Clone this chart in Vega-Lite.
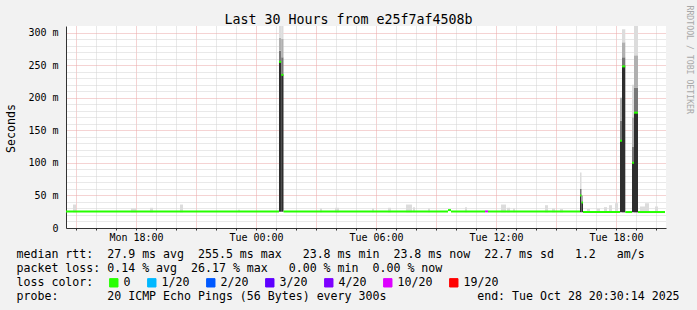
{
  "$schema": "https://vega.github.io/schema/vega-lite/v6.json",
  "width": 600,
  "height": 202,
  "autosize": {"type": "none"},
  "padding": {"left": 66, "top": 26, "right": 31, "bottom": 82},
  "background": "#f2f2f2",
  "config": {"view": {"fill": "#ffffff", "stroke": null}, "font": "DejaVu Sans Mono"},
  "datasets": {
    "smoke": [
      {"t": 14.85, "t2": 15.0, "lo": 24, "hi": 36, "d": 1},
      {"t": 17.75, "t2": 18.0, "lo": 24, "hi": 30, "d": 1},
      {"t": 18.7, "t2": 18.85, "lo": 24, "hi": 31, "d": 1},
      {"t": 20.2, "t2": 20.35, "lo": 24, "hi": 36, "d": 1},
      {"t": 23.1, "t2": 23.2, "lo": 24, "hi": 28, "d": 1},
      {"t": 27.2, "t2": 27.3, "lo": 24, "hi": 30, "d": 1},
      {"t": 27.95, "t2": 28.15, "lo": 24, "hi": 31, "d": 1},
      {"t": 29.8, "t2": 29.9, "lo": 24, "hi": 30, "d": 1},
      {"t": 30.6, "t2": 30.75, "lo": 24, "hi": 31, "d": 1},
      {"t": 31.5, "t2": 31.8, "lo": 24, "hi": 36, "d": 1},
      {"t": 31.85, "t2": 31.95, "lo": 24, "hi": 32, "d": 1},
      {"t": 32.6, "t2": 32.7, "lo": 24, "hi": 30, "d": 1},
      {"t": 34.45, "t2": 34.55, "lo": 24, "hi": 32, "d": 1},
      {"t": 36.25, "t2": 36.5, "lo": 24, "hi": 36, "d": 1},
      {"t": 36.55, "t2": 36.7, "lo": 24, "hi": 31, "d": 1},
      {"t": 36.85, "t2": 36.95, "lo": 24, "hi": 30, "d": 1},
      {"t": 38.45, "t2": 38.6, "lo": 24, "hi": 35, "d": 1},
      {"t": 38.8, "t2": 38.95, "lo": 24, "hi": 30, "d": 1},
      {"t": 39.2, "t2": 39.35, "lo": 24, "hi": 29, "d": 1},
      {"t": 40.55, "t2": 40.7, "lo": 24, "hi": 29, "d": 1},
      {"t": 41.05, "t2": 41.2, "lo": 24, "hi": 30, "d": 1},
      {"t": 41.4, "t2": 41.55, "lo": 24, "hi": 32, "d": 1},
      {"t": 41.65, "t2": 41.8, "lo": 24, "hi": 35, "d": 1},
      {"t": 41.95, "t2": 42.1, "lo": 24, "hi": 38, "d": 1},
      {"t": 43.2, "t2": 43.45, "lo": 24, "hi": 33, "d": 1},
      {"t": 43.45, "t2": 43.65, "lo": 24, "hi": 38, "d": 1},
      {"t": 43.95, "t2": 44.1, "lo": 24, "hi": 33, "d": 1},
      {"t": 25.15, "t2": 25.26, "lo": 25, "hi": 255, "d": 4},
      {"t": 25.15, "t2": 25.26, "lo": 255, "hi": 272, "d": 3},
      {"t": 25.15, "t2": 25.26, "lo": 272, "hi": 292, "d": 2},
      {"t": 25.15, "t2": 25.26, "lo": 292, "hi": 310, "d": 1},
      {"t": 25.26, "t2": 25.375, "lo": 25, "hi": 235, "d": 4},
      {"t": 25.26, "t2": 25.375, "lo": 235, "hi": 262, "d": 3},
      {"t": 25.26, "t2": 25.375, "lo": 262, "hi": 290, "d": 2},
      {"t": 25.26, "t2": 25.375, "lo": 290, "hi": 310, "d": 1},
      {"t": 40.2, "t2": 40.275, "lo": 24, "hi": 50, "d": 4},
      {"t": 40.2, "t2": 40.275, "lo": 50, "hi": 60, "d": 3},
      {"t": 40.2, "t2": 40.275, "lo": 60, "hi": 85, "d": 1},
      {"t": 40.275, "t2": 40.35, "lo": 24, "hi": 39, "d": 4},
      {"t": 40.275, "t2": 40.35, "lo": 39, "hi": 50, "d": 2},
      {"t": 42.2, "t2": 42.3, "lo": 24, "hi": 134, "d": 4},
      {"t": 42.2, "t2": 42.3, "lo": 134, "hi": 165, "d": 3},
      {"t": 42.2, "t2": 42.3, "lo": 165, "hi": 200, "d": 2},
      {"t": 42.3, "t2": 42.465, "lo": 24, "hi": 248, "d": 4},
      {"t": 42.3, "t2": 42.465, "lo": 248, "hi": 262, "d": 3},
      {"t": 42.3, "t2": 42.465, "lo": 262, "hi": 285, "d": 2},
      {"t": 42.3, "t2": 42.465, "lo": 285, "hi": 305, "d": 1},
      {"t": 42.8, "t2": 42.9, "lo": 24, "hi": 100, "d": 4},
      {"t": 42.8, "t2": 42.9, "lo": 100, "hi": 125, "d": 3},
      {"t": 42.8, "t2": 42.9, "lo": 125, "hi": 170, "d": 2},
      {"t": 42.8, "t2": 42.9, "lo": 170, "hi": 220, "d": 1},
      {"t": 42.9, "t2": 43.1, "lo": 24, "hi": 177, "d": 4},
      {"t": 42.9, "t2": 43.1, "lo": 177, "hi": 215, "d": 3},
      {"t": 42.9, "t2": 43.1, "lo": 215, "hi": 265, "d": 2},
      {"t": 42.9, "t2": 43.1, "lo": 265, "hi": 310, "d": 1}
    ],
    "median": [
      {"t": 14.5, "t2": 25.15, "med": 25.5, "loss": "0"},
      {"t": 25.15, "t2": 25.26, "med": 255, "loss": "0"},
      {"t": 25.26, "t2": 25.375, "med": 235, "loss": "0"},
      {"t": 25.375, "t2": 33.6, "med": 25.5, "loss": "0"},
      {"t": 33.6, "t2": 33.75, "med": 27.5, "loss": "0"},
      {"t": 33.75, "t2": 35.45, "med": 25.5, "loss": "0"},
      {"t": 35.45, "t2": 35.6, "med": 25.5, "loss": "10/20"},
      {"t": 35.6, "t2": 40.2, "med": 25.5, "loss": "0"},
      {"t": 40.2, "t2": 40.275, "med": 50, "loss": "0"},
      {"t": 40.275, "t2": 40.35, "med": 39, "loss": "0"},
      {"t": 40.35, "t2": 42.2, "med": 24.5, "loss": "0"},
      {"t": 42.2, "t2": 42.3, "med": 134, "loss": "0"},
      {"t": 42.3, "t2": 42.465, "med": 248, "loss": "0"},
      {"t": 42.465, "t2": 42.8, "med": 24.5, "loss": "0"},
      {"t": 42.8, "t2": 42.9, "med": 100, "loss": "0"},
      {"t": 42.9, "t2": 43.1, "med": 177, "loss": "0"},
      {"t": 43.1, "t2": 44.45, "med": 24.5, "loss": "0"}
    ]
  },
  "layer": [
    {
      "data": {"name": "smoke"},
      "mark": {"type": "rect", "clip": true},
      "encoding": {
        "x": {
          "field": "t", "type": "quantitative",
          "scale": {"domain": [14.5, 44.5], "nice": false, "zero": false},
          "axis": {
            "orient": "bottom",
            "values": [15,16,17,18,19,20,21,22,23,24,25,26,27,28,29,30,31,32,33,34,35,36,37,38,39,40,41,42,43,44],
            "labelExpr": "datum.value % 6 === 0 ? (datum.value < 24 ? 'Mon ' : 'Tue ') + (datum.value % 24 < 10 ? '0' : '') + (datum.value % 24) + ':00' : ''",
            "labelFont": "DejaVu Sans Mono", "labelFontSize": 10, "labelColor": "#000000",
            "labelPadding": 2, "labelOverlap": false, "labelFlush": false, "labelBound": false,
            "ticks": true, "tickSize": 2,
            "tickColor": "#333333",
            "domainColor": "#333333",
            "grid": true,
            "gridColor": {"condition": {"test": "datum.value % 3 === 0", "value": "#eaa6a6"}, "value": "#d2d2d2"},
            "gridDash": [1, 1],
            "title": null
          }
        },
        "x2": {"field": "t2"},
        "y": {
          "field": "lo", "type": "quantitative",
          "scale": {"domain": [0, 310], "nice": false},
          "axis": {
            "values": [0,10,20,30,40,50,60,70,80,90,100,110,120,130,140,150,160,170,180,190,200,210,220,230,240,250,260,270,280,290,300],
            "labelExpr": "datum.value % 50 === 0 ? (datum.value === 0 ? '0\u00a0\u00a0' : datum.value + '\u00a0m') : ''",
            "labelFont": "DejaVu Sans Mono", "labelFontSize": 10, "labelColor": "#000000",
            "labelPadding": 8, "labelOverlap": false, "labelBound": false, "labelFlush": false,
            "ticks": false,
            "domainColor": "#333333",
            "grid": true,
            "gridColor": {"condition": {"test": "datum.value % 50 === 0", "value": "#eaa6a6"}, "value": "#d2d2d2"},
            "gridDash": [1, 1],
            "title": "Seconds",
            "titleFont": "DejaVu Sans Mono", "titleFontSize": 11.6, "titleFontWeight": "normal", "titleColor": "#000000",
            "titleAngle": 270, "titleAlign": "center", "titleBaseline": "middle",
            "titleX": -55, "titleY": 102
          }
        },
        "y2": {"field": "hi"},
        "fill": {
          "field": "d", "type": "ordinal",
          "scale": {"domain": [1, 2, 3, 4, 5], "range": ["#dcdcdc", "#b0b0b0", "#777777", "#2e2e2e", "#111111"]},
          "legend": null
        }
      }
    },
    {
      "data": {"name": "median"},
      "mark": {"type": "rule", "strokeWidth": 2, "clip": true},
      "encoding": {
        "x": {"field": "t", "type": "quantitative", "axis": null},
        "x2": {"field": "t2"},
        "y": {"field": "med", "type": "quantitative", "axis": null},
        "color": {
          "field": "loss", "type": "nominal",
          "scale": {"domain": ["0", "1/20", "2/20", "3/20", "4/20", "10/20", "19/20"], "range": ["#26ff00", "#00b8ff", "#0059ff", "#5e00ff", "#7e00ff", "#dd00ff", "#ff0000"]},
          "legend": {
            "orient": "none", "legendX": 42, "legendY": 251,
            "direction": "horizontal", "columns": 7, "title": null,
            "symbolType": "square", "symbolSize": 70, "symbolStrokeWidth": 1,
            "labelFont": "DejaVu Sans Mono", "labelFontSize": 11.6, "labelColor": "#000000",
            "labelOffset": 4, "columnPadding": 14, "padding": 0,
            "encode": {"symbols": {"update": {"fill": {"scale": "color", "field": "value"}, "stroke": {"value": "#000000"}, "strokeWidth": {"value": 1}, "opacity": {"value": 1}}}}
          }
        }
      }
    },
    {
      "data": {"name": "median"},
      "mark": {"type": "point", "opacity": 0},
      "encoding": {
        "x": {
          "field": "t", "type": "quantitative",
          "axis": {
            "orient": "bottom", "labels": false, "ticks": false, "domain": false, "grid": false,
            "title": [
              "median rtt:\u00a0\u00a027.9\u00a0ms\u00a0avg\u00a0\u00a0255.5\u00a0ms\u00a0max\u00a0\u00a0\u00a023.8\u00a0ms\u00a0min\u00a0\u00a023.8\u00a0ms\u00a0now\u00a0\u00a022.7\u00a0ms\u00a0sd\u00a0\u00a0\u00a01.2\u00a0\u00a0\u00a0am/s",
              "packet\u00a0loss:\u00a00.14\u00a0%\u00a0avg\u00a0\u00a026.17\u00a0%\u00a0max\u00a0\u00a0\u00a00.00\u00a0%\u00a0min\u00a0\u00a00.00\u00a0%\u00a0now",
              "loss\u00a0color:",
              "probe:\u00a0\u00a0\u00a0\u00a0\u00a0\u00a0\u00a020\u00a0ICMP\u00a0Echo\u00a0Pings\u00a0(56\u00a0Bytes)\u00a0every\u00a0300s\u00a0\u00a0\u00a0\u00a0\u00a0\u00a0\u00a0\u00a0\u00a0\u00a0\u00a0\u00a0\u00a0end:\u00a0Tue\u00a0Oct\u00a028\u00a020:30:14\u00a02025"
            ],
            "titleFont": "DejaVu Sans Mono", "titleFontSize": 11.6, "titleFontWeight": "normal", "titleColor": "#000000",
            "titleAnchor": "start", "titleAlign": "left", "titleBaseline": "middle",
            "titleX": -50, "titleY": 26, "titleLineHeight": 14
          }
        },
        "y": {
          "field": "med", "type": "quantitative",
          "axis": {
            "orient": "right", "labels": false, "ticks": false, "domain": false, "grid": false,
            "title": "RRDTOOL / TOBI OETIKER",
            "titleFont": "DejaVu Sans Mono", "titleFontSize": 8.2, "titleFontWeight": "normal", "titleColor": "#a8a8a8",
            "titleAngle": 90, "titleAlign": "left", "titleBaseline": "middle",
            "titleX": 22, "titleY": -21
          }
        }
      }
    },
    {
      "data": {"name": "median"},
      "mark": {"type": "point", "opacity": 0},
      "encoding": {
        "x": {
          "field": "t", "type": "quantitative",
          "axis": {
            "orient": "top", "labels": false, "ticks": false, "domain": false, "grid": false,
            "title": "Last 30 Hours from e25f7af4508b",
            "titleFont": "DejaVu Sans Mono", "titleFontSize": 13.3, "titleFontWeight": "normal", "titleColor": "#000000",
            "titleAlign": "center", "titleBaseline": "middle",
            "titleX": 282, "titleY": -7
          }
        },
        "y": {"field": "med", "type": "quantitative", "axis": null}
      }
    }
  ],
  "resolve": {"axis": {"x": "independent", "y": "independent"}}
}
